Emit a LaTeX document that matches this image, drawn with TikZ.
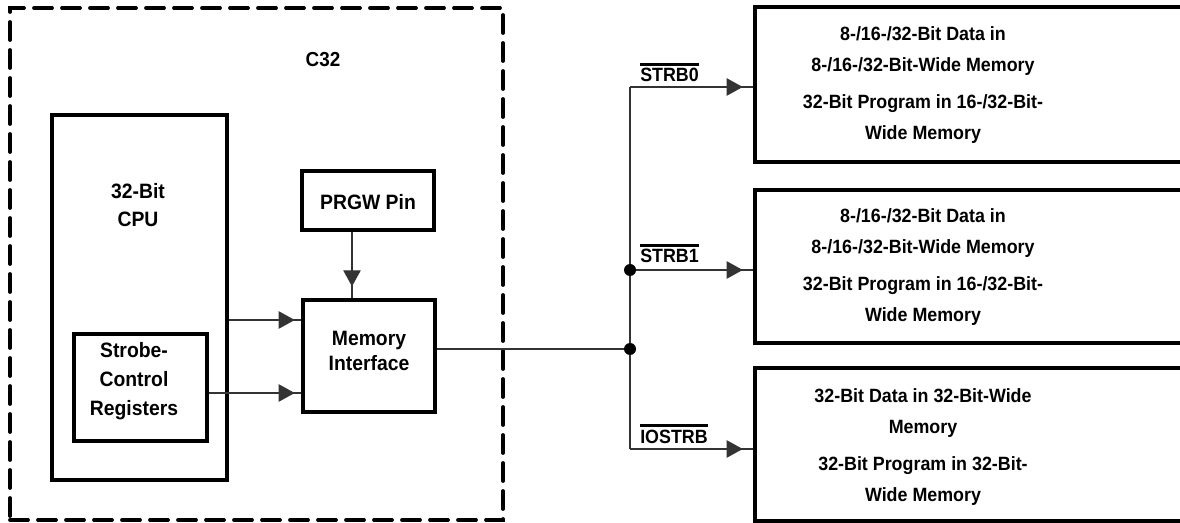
\documentclass[tikz,border=0pt]{standalone}
\usepackage{fontspec}
\setmainfont{Liberation Sans}[FakeStretch=0.93]
\usetikzlibrary{arrows.meta,fit}

\newcommand{\notsig}[1]{\vbox{\hrule height 2pt\kern 2pt\hbox{#1}}}

\begin{document}
\begin{tikzpicture}[x=0.75pt, y=-0.75pt,
  box/.style={draw, line width=2.4pt, inner sep=0pt},
  wire/.style={draw=black!80, line width=0.8pt},
  tip/.style={wire, -{Triangle[length=12pt,width=13pt]}},
  big/.style={font=\fontsize{15.6}{21}\selectfont\bfseries, align=center},
  small/.style={font=\fontsize{14.4}{23.25}\selectfont\bfseries, align=center}]
  \clip (0,0) rectangle (1180,523);

  % Draw the C32 outline
  \node[box, line width=2.8pt, line cap=round, dash pattern=on 13.5pt off 7.5pt, fit={(10,8) (503,520)}] (c32) {};
  \node[big, font=\fontsize{15.2}{21}\selectfont\bfseries] (c32lbl) at (323,60) {C32};

  % CPU and its registers
  \node[box, fit={(52,115) (227,480)}] (cpu) {};
  \node[big] (cpulbl) at (138,205) {32-Bit\\CPU};
  \node[box, fit={(74,334) (207,441)}] (regs) {};
  \node[big, font=\fontsize{15.6}{21.75}\selectfont\bfseries] (regslbl) at (134,381) {Strobe-\\Control\\Registers};

  \node[box, fit={(302,171) (434,230)}] (prgw) {};
  \node[big] (prgwlbl) at (368,202) {PRGW Pin};
  \node[box, fit={(303,300) (435,412)}] (mem) {};
  \node[big, font=\fontsize{15.6}{19}\selectfont\bfseries] (memlbl) at (369,351) {Memory\\Interface};

  % Memories on the strobes
  \node[box, fit={(755,7) (1200,162)}] (dev0) {};
  \node[small] (dev0lbl) at (923,85) {8-/16-/32-Bit Data in\\8-/16-/32-Bit-Wide Memory\\[5pt]32-Bit Program in 16-/32-Bit-\\Wide Memory};
  \node[box, fit={(755,190) (1200,343)}] (dev1) {};
  \node[small] (dev1lbl) at (923,267) {8-/16-/32-Bit Data in\\8-/16-/32-Bit-Wide Memory\\[5pt]32-Bit Program in 16-/32-Bit-\\Wide Memory};
  \node[box, fit={(755,368) (1200,521)}] (dev2) {};
  \node[small] (dev2lbl) at (923,447) {32-Bit Data in 32-Bit-Wide\\Memory\\[5pt]32-Bit Program in 32-Bit-\\Wide Memory};

  % Arrows into the memory interface
  \draw[wire] (cpu.east |- 0,320) -- (mem.west |- 0,320);
  \draw[tip, shorten >=5pt] (cpu.east |- 0,320) -- (mem.west |- 0,320);
  \draw[wire] (regs.east |- 0,393) -- (mem.west |- 0,393);
  \draw[tip, shorten >=5pt] (regs.east |- 0,393) -- (mem.west |- 0,393);
  \draw[wire] (352,0 |- prgw.south) -- (352,0 |- mem.north);
  \draw[tip, shorten >=9pt] (352,0 |- prgw.south) -- (352,0 |- mem.north);

  % Strobe bus
  \coordinate (j0) at (630,87);
  \coordinate (j1) at (630,270);
  \coordinate (jm) at (630,349);
  \coordinate (j2) at (630,449);
  \draw[wire] (mem.east |- jm) -- (jm);
  \draw[wire] (j0) -- (j2);
  \foreach \j/\d in {j0/dev0, j1/dev1, j2/dev2} {
    \draw[wire] (\j) -- (\d.west |- \j);
    \draw[tip, shorten >=8pt] (\j) -- (\d.west |- \j);
  }
  \fill (j1) circle (4.5pt);
  \fill (jm) circle (4.5pt);

  \node[small, anchor=base west, inner sep=0pt] (s0) at (640,82) {\notsig{STRB0}};
  \node[small, anchor=base west, inner sep=0pt] (s1) at (640,263) {\notsig{STRB1}};
  \node[small, anchor=base west, inner sep=0pt] (s2) at (640,443) {\notsig{IOSTRB}};
\end{tikzpicture}
\end{document}
